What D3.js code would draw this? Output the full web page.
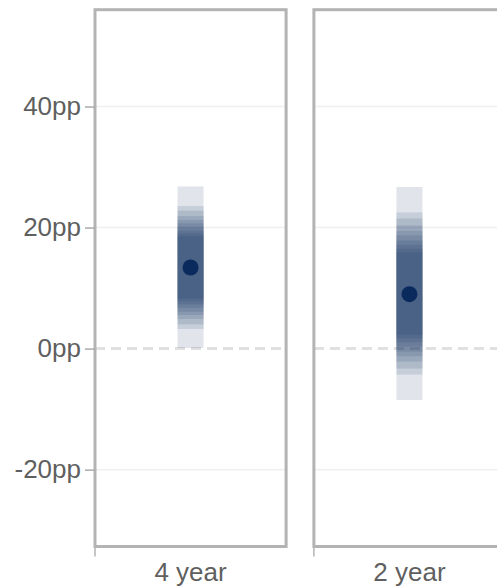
<!DOCTYPE html>
<html>
<head>
<meta charset="utf-8">
<script src="https://cdn.jsdelivr.net/npm/d3@7"></script>
<style>
    body { margin: 0; background: #fff; }
    .tick text { font-family: "Liberation Sans", Arial, sans-serif; font-size: 26px; fill: #5f5f5f; }
</style>
</head>
<body>
<svg width="497" height="588"></svg>
<script>
// categories and their estimates (percentage points)
let categories = ['4 year', '2 year']
let means = [13.4, 9.0]

// nested credible intervals, outer to inner
let levels = [0.99, 0.95, 0.93, 0.9, 0.87, 0.84, 0.8, 0.76, 0.72, 0.68]
let lower_4year = [0.1, 3.25, 4.0, 4.9, 5.55, 6.1, 6.75, 7.3, 7.8, 8.25]
let upper_4year = [26.8, 23.55, 22.8, 21.9, 21.25, 20.7, 20.05, 19.5, 19.0, 18.55]
let lower_2year = [-8.5, -4.3, -3.3, -2.15, -1.25, -0.5, 0.35, 1.05, 1.7, 2.3]
let upper_2year = [26.7, 22.5, 21.5, 20.35, 19.45, 18.7, 17.85, 17.15, 16.5, 15.9]

let yTicks = [-20, 0, 20, 40]

let intervals = [
    { cat: categories[0], lo: lower_4year, hi: upper_4year, mean: means[0] },
    { cat: categories[1], lo: lower_2year, hi: upper_2year, mean: means[1] }
]

let svg = d3.select('svg')

let plotTop = 9.7
let plotBottom = 546.5

let scale = {
    x: d3.scaleBand().domain(categories).range([95, 505]).paddingInner(0.127),
    y: d3.scaleLinear().domain([-32.7, 56.0]).range([plotBottom, plotTop])
}

let barWidth = 26

// gridlines, per panel
let panels = svg.selectAll('.panel')
    .data(categories)
    .enter()
    .append('g')
    .attr('class', 'panel')

panels.each(function (c) {
    let g = d3.select(this)
    let x0 = scale.x(c)
    let x1 = x0 + scale.x.bandwidth()
    g.selectAll('.grid')
        .data(yTicks.filter(t => t !== 0))
        .enter()
        .append('line')
        .attr('x1', x0).attr('x2', x1)
        .attr('y1', d => scale.y(d)).attr('y2', d => scale.y(d))
        .attr('stroke', '#efefef')
        .attr('stroke-width', 1.5)
    g.append('line')
        .attr('x1', x0).attr('x2', x1)
        .attr('y1', scale.y(0)).attr('y2', scale.y(0))
        .attr('stroke', '#e0e0e0')
        .attr('stroke-width', 3)
        .attr('stroke-dasharray', '10,6')
})

// gradient intervals: stacked translucent bands
intervals.forEach(d => {
    let cx = scale.x(d.cat) + scale.x.bandwidth() / 2
    svg.append('g')
        .selectAll('rect')
        .data(levels.map((l, i) => ({ level: l, lo: d.lo[i], hi: d.hi[i] })))
        .enter()
        .append('rect')
        .attr('x', cx - barWidth / 2)
        .attr('width', barWidth)
        .attr('y', b => scale.y(b.hi))
        .attr('height', b => scale.y(b.lo) - scale.y(b.hi))
        .attr('fill', '#0a2a5e')
        .attr('fill-opacity', 0.12)

    svg.append('circle')
        .attr('cx', cx)
        .attr('cy', scale.y(d.mean))
        .attr('r', 8)
        .attr('fill', '#0a2a5e')
})

// panel borders
panels.append('rect')
    .attr('x', c => scale.x(c))
    .attr('y', plotTop)
    .attr('width', scale.x.bandwidth())
    .attr('height', plotBottom - plotTop)
    .attr('fill', 'none')
    .attr('stroke', '#b3b3b3')
    .attr('stroke-width', 3)

// Y axis
let yAxis = svg.append('g')
    .attr('transform', 'translate(95,0)')
    .call(d3.axisLeft(scale.y).tickValues(yTicks).tickSize(10).tickPadding(4).tickFormat(d => `${d}pp`))
yAxis.select('.domain').remove()
yAxis.selectAll('.tick line').attr('stroke', '#aaa').attr('stroke-width', 1.5)

// X axis: ticks at panel edges, labels centred on panels
let xAxis = svg.append('g').attr('transform', `translate(0,${plotBottom})`)
xAxis.selectAll('.edge')
    .data(categories)
    .enter()
    .append('line')
    .attr('x1', c => scale.x(c)).attr('x2', c => scale.x(c))
    .attr('y1', 0).attr('y2', 10)
    .attr('stroke', '#b3b3b3')
    .attr('stroke-width', 1.5)
xAxis.selectAll('.tick')
    .data(categories)
    .enter()
    .append('g')
    .attr('class', 'tick')
    .append('text')
    .attr('x', c => scale.x(c) + scale.x.bandwidth() / 2)
    .attr('y', 34)
    .attr('text-anchor', 'middle')
    .text(c => c)
</script>
</body>
</html>
